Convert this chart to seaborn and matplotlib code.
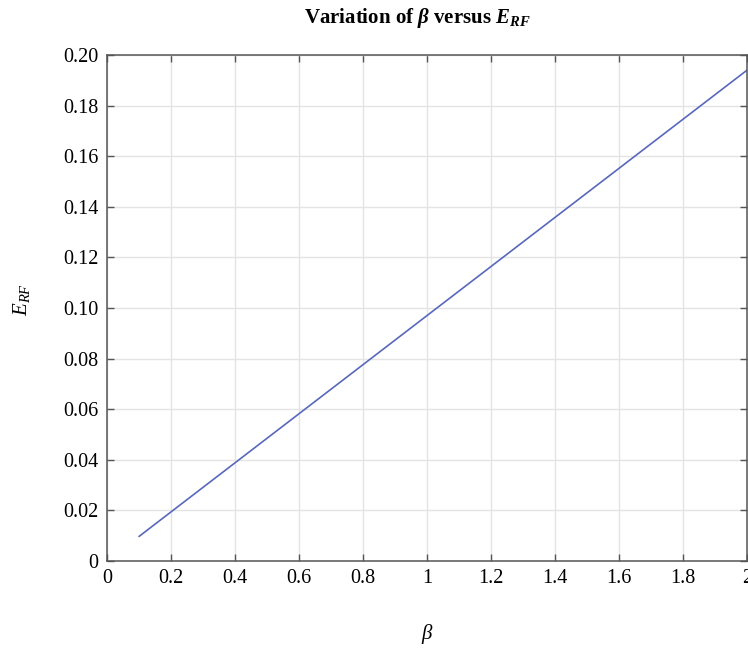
import seaborn as sns
import matplotlib.pyplot as plt
import pandas as pd

# values
beta = [0.1, 0.5, 1.0, 1.5, 2.0]
e_rf = [0.0097, 0.0485, 0.097, 0.1455, 0.194]

xticks = [0, 0.2, 0.4, 0.6, 0.8, 1.0, 1.2, 1.4, 1.6, 1.8, 2.0]
xtick_labels = ['0', '0.2', '0.4', '0.6', '0.8', '1', '1.2', '1.4', '1.6', '1.8', '2']
yticks = [0, 0.02, 0.04, 0.06, 0.08, 0.10, 0.12, 0.14, 0.16, 0.18, 0.20]
ytick_labels = ['0', '0.02', '0.04', '0.06', '0.08', '0.10', '0.12', '0.14', '0.16', '0.18', '0.20']

sns.set_theme(style="ticks")
plt.rcParams['font.family'] = ['Liberation Serif', 'DejaVu Serif']
plt.rcParams['text.color'] = 'black'
plt.rcParams['axes.labelcolor'] = 'black'
plt.rcParams['mathtext.fontset'] = 'custom'
plt.rcParams['mathtext.rm'] = 'Liberation Serif'
plt.rcParams['mathtext.it'] = 'Liberation Serif:italic'
plt.rcParams['mathtext.bf'] = 'Liberation Serif:bold'
plt.rcParams['mathtext.bfit'] = 'Liberation Serif:bold:italic'

SPINE = '#555555'

df = pd.DataFrame({'beta': beta, 'E_RF': e_rf})

fig = plt.figure(figsize=(7.48, 6.48), dpi=100)
ax = fig.add_axes([107 / 748, 87 / 648, 640 / 748, 506 / 648])

sns.lineplot(data=df, x='beta', y='E_RF', ax=ax, color='#5868bb', lw=1.2)

ax.set_xlim(0, 2)
ax.set_ylim(0, 0.2)
ax.set_xticks(xticks)
ax.set_xticklabels(xtick_labels)
ax.set_yticks(yticks)
ax.set_yticklabels(ytick_labels)
ax.grid(True, color='#e4e4e4', lw=1)
ax.set_axisbelow(True)

for s in ax.spines.values():
    s.set_visible(True)
    s.set_color(SPINE)
    s.set_linewidth(1.1)
ax.tick_params(direction='in', length=5, width=1, color=SPINE, top=True, right=True,
               labelsize=14.5, labelcolor='black', pad=6)

ax.set_xlabel('')
ax.set_ylabel('')
fig.text(427 / 748, 1 - 634 / 648, r'$\beta$', fontsize=15, ha='center', va='center')
fig.text(22 / 748, 1 - 300 / 648, r'$E_{RF}$', fontsize=15, rotation=90, ha='center', va='center')

fig.text(417 / 748, 1 - 18 / 648, r'Variation of $\mathbfit{\beta}$ versus $\mathbfit{E}_{\mathbfit{RF}}$',
         fontsize=15, fontweight='bold', ha='center', va='center')

plt.savefig('out.png', dpi=100)
